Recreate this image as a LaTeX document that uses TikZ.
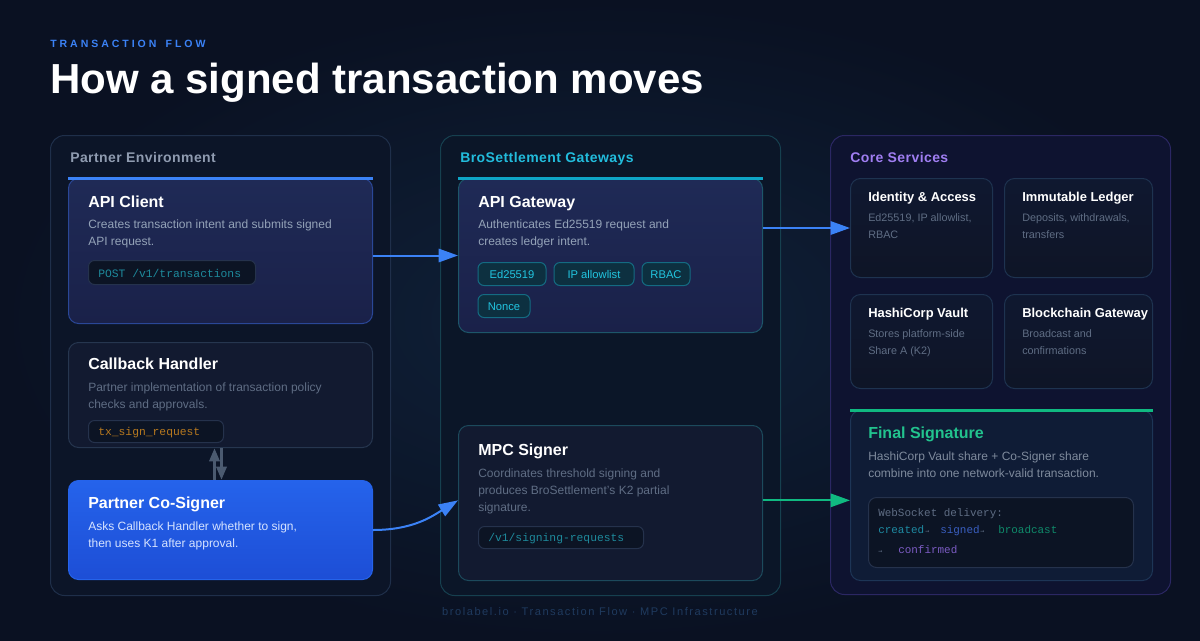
\documentclass[tikz,border=0pt]{standalone}
\usepackage{fontspec}
\setmainfont{Liberation Sans}
\setmonofont{Liberation Mono}
\newfontfamily\kickerfont[LetterSpace=28]{Liberation Sans}
\newfontfamily\footfont[LetterSpace=14]{Liberation Sans}
\newfontfamily\secfont[LetterSpace=3]{Liberation Sans}
\newfontfamily\arrfont{DejaVu Sans Mono}
\usetikzlibrary{arrows.meta,calc}
\definecolor{bg}{HTML}{0A1122}
\definecolor{glowc}{HTML}{0F2139}
\definecolor{kicker}{HTML}{3B82F6}
\definecolor{pcont}{HTML}{0C1528}
\definecolor{pline}{HTML}{1F2F4A}
\definecolor{gcont}{HTML}{0B1628}
\definecolor{gline}{HTML}{16404F}
\definecolor{ccont}{HTML}{0E1330}
\definecolor{cline}{HTML}{2B2763}
\definecolor{ptitle}{HTML}{8F9BB0}
\definecolor{gtitle}{HTML}{22BCDC}
\definecolor{ctitle}{HTML}{A07EF2}
\definecolor{hitop}{HTML}{1F2A56}
\definecolor{hibot}{HTML}{1A2149}
\definecolor{hiline}{HTML}{2A4797}
\definecolor{gwline}{HTML}{1D566A}
\definecolor{dkfill}{HTML}{121A30}
\definecolor{dkline}{HTML}{26364F}
\definecolor{mpcline}{HTML}{1C4A5C}
\definecolor{corefill}{HTML}{0F1830}
\definecolor{coreline}{HTML}{1E3350}
\definecolor{finfill}{HTML}{0F1C36}
\definecolor{finline}{HTML}{1D3556}
\definecolor{csTop}{HTML}{2563EB}
\definecolor{csBot}{HTML}{1D4ED6}
\definecolor{desc}{HTML}{94A3B8}
\definecolor{desc2}{HTML}{5F6D84}
\definecolor{cosdesc}{HTML}{D6E3FF}
\definecolor{codebg}{HTML}{0C1424}
\definecolor{codeline}{HTML}{25324C}
\definecolor{codetxt}{HTML}{1E8A9C}
\definecolor{amber}{HTML}{B7791F}
\definecolor{chipbg}{HTML}{0D3040}
\definecolor{chipline}{HTML}{146B82}
\definecolor{chiptxt}{HTML}{22C5E0}
\definecolor{barblue}{HTML}{3B82F6}
\definecolor{barteal}{HTML}{0EA5C6}
\definecolor{bargreen}{HTML}{10B981}
\definecolor{fintitle}{HTML}{22C38E}
\definecolor{wsgray}{HTML}{5F6D84}
\definecolor{wscreated}{HTML}{1E8AA2}
\definecolor{wssigned}{HTML}{3A5FC2}
\definecolor{wsbroad}{HTML}{0F8A6A}
\definecolor{wsconf}{HTML}{7C5CC4}
\definecolor{arrgray}{HTML}{4B5A70}
\definecolor{footc}{HTML}{1F3A5E}
\begin{document}
\begin{tikzpicture}[x=0.75pt,y=-0.75pt,
  sz/.style 2 args={minimum width=#1*0.75pt, minimum height=#2*0.75pt},
  box/.style={rectangle, rounded corners=7.5pt, anchor=north west, inner sep=0pt, line width=0.75pt},
  cont/.style={box, rounded corners=10.5pt},
  ttl/.style={anchor=base west, inner sep=0pt, text=white, font=\fontsize{12}{14}\selectfont\bfseries},
  sttl/.style={anchor=base west, inner sep=0pt, text=white, font=\fontsize{9.7}{12}\selectfont\bfseries},
  dsc/.style={anchor=base west, inner sep=0pt, text=desc, font=\fontsize{9}{11}\selectfont},
  sdsc/.style={anchor=base west, inner sep=0pt, text=desc2, font=\fontsize{8.1}{10}\selectfont},
  sec/.style={anchor=base west, inner sep=0pt, font=\fontsize{10.5}{12}\secfont\bfseries},
  code/.style={anchor=base west, inner sep=0pt, font=\fontsize{8.5}{10}\ttfamily},
  codebox/.style={box, rounded corners=4.5pt, fill=codebg, draw=codeline},
  chip/.style={rectangle, rounded corners=4.5pt, draw=chipline, fill=chipbg, text=chiptxt,
    font=\fontsize{8.4}{10}\selectfont, inner sep=0pt, line width=0.75pt, minimum height=23*0.75pt,
    text height=6.2pt, text depth=0pt},
  bar/.style={line width=2.25pt},
  arr/.style={line width=1.5pt, -{Triangle[length=14.5pt,width=10pt]}},
  garr/.style={line width=2.4pt, arrgray, -{Triangle[length=10pt,width=7.5pt]}}
]
\useasboundingbox (0,0) rectangle (1200,640);
\shade[inner color=glowc, outer color=bg] (0,0) rectangle (1200,640);

% header
\node[anchor=base west, inner sep=0pt, text=kicker, font=\fontsize{7.9}{10}\kickerfont\bfseries] (kick) at (50,47.5) {TRANSACTION\hspace{2.5pt} FLOW};
\node[anchor=base west, inner sep=0pt, text=white, font=\fontsize{31.5}{36}\selectfont\bfseries] (head) at (50,93) {How a signed transaction moves};

% containers
\node[cont, sz={340}{460}, fill=pcont, draw=pline] (partner) at (50,135) {};
\node[cont, sz={340}{460}, fill=gcont, draw=gline] (gateways) at (440,135) {};
\node[cont, sz={340}{459}, fill=ccont, draw=cline] (core) at (830,135) {};
\node[sec, text=ptitle] (partner-t) at (70,162) {Partner Environment};
\node[sec, text=gtitle] (gateways-t) at (460,162) {BroSettlement Gateways};
\node[sec, text=ctitle] (core-t) at (850,162) {Core Services};

% API Client
\node[box, sz={304}{145}, top color=hitop, bottom color=hibot, draw=hiline] (ac) at (68,178) {};
\draw[bar, barblue] (ac.north west) -- (ac.north east);
\node[ttl] (ac-t) at (88,207) {API Client};
\node[dsc] (ac-d1) at (88,228) {Creates transaction intent and submits signed};
\node[dsc] (ac-d2) at (88,245) {API request.};
\node[codebox, sz={167}{24}] (ac-cb) at (88,260) {};
\node[code, text=codetxt] (ac-c) at (98,277) {POST /v1/transactions};

% Callback Handler
\node[box, sz={304}{105}, fill=dkfill, draw=dkline] (cb) at (68,342) {};
\node[ttl] (cb-t) at (88,369) {Callback Handler};
\node[dsc, text=desc2] (cb-d1) at (88,391) {Partner implementation of transaction policy};
\node[dsc, text=desc2] (cb-d2) at (88,408) {checks and approvals.};
\node[codebox, sz={135}{22}] (cb-cb) at (88,420) {};
\node[code, text=amber] (cb-c) at (98,435) {tx\_sign\_request};

% Partner Co-Signer
\node[box, sz={304}{99}, top color=csTop, bottom color=csBot, draw=csTop] (cs) at (68,480) {};
\node[ttl] (cs-t) at (88,508) {Partner Co-Signer};
\node[dsc, text=cosdesc] (cs-d1) at (88,530) {Asks Callback Handler whether to sign,};
\node[dsc, text=cosdesc] (cs-d2) at (88,547) {then uses K1 after approval.};

% API Gateway
\node[box, sz={304}{154}, top color=hitop, bottom color=hibot, draw=gwline] (gw) at (458,178) {};
\draw[bar, barteal] (gw.north west) -- (gw.north east);
\node[ttl] (gw-t) at (478,207) {API Gateway};
\node[dsc] (gw-d1) at (478,228) {Authenticates Ed25519 request and};
\node[dsc] (gw-d2) at (478,245) {creates ledger intent.};
\node[chip, minimum width=68*0.75pt] (chip1) at (512,274) {Ed25519};
\node[chip, minimum width=80*0.75pt] (chip2) at (594,274) {IP allowlist};
\node[chip, minimum width=48*0.75pt] (chip3) at (666,274) {RBAC};
\node[chip, minimum width=52*0.75pt] (chip4) at (504,306) {Nonce};

% MPC Signer
\node[box, sz={304}{155}, fill=dkfill, draw=mpcline] (mpc) at (458,425) {};
\node[ttl] (mpc-t) at (478,455) {MPC Signer};
\node[dsc, text=desc2] (mpc-d1) at (478,477) {Coordinates threshold signing and};
\node[dsc, text=desc2] (mpc-d2) at (478,494) {produces BroSettlement's K2 partial};
\node[dsc, text=desc2] (mpc-d3) at (478,511) {signature.};
\node[codebox, sz={165}{22}] (mpc-cb) at (478,526) {};
\node[code, text=codetxt] (mpc-c) at (488,541) {/v1/signing-requests};

% Core services
\node[box, sz={142}{99}, top color=corefill, bottom color=dkfill!80!black, draw=coreline] (ia) at (850,178) {};
\node[sttl] (ia-t) at (868,201) {Identity \& Access};
\node[sdsc] (ia-d1) at (868,221) {Ed25519, IP allowlist,};
\node[sdsc] (ia-d2) at (868,238) {RBAC};
\node[box, sz={148}{99}, top color=corefill, bottom color=dkfill!80!black, draw=coreline] (il) at (1004,178) {};
\node[sttl] (il-t) at (1022,201) {Immutable Ledger};
\node[sdsc] (il-d1) at (1022,221) {Deposits, withdrawals,};
\node[sdsc] (il-d2) at (1022,238) {transfers};
\node[box, sz={142}{94}, top color=corefill, bottom color=dkfill!80!black, draw=coreline] (hv) at (850,294) {};
\node[sttl] (hv-t) at (868,317) {HashiCorp Vault};
\node[sdsc] (hv-d1) at (868,337) {Stores platform-side};
\node[sdsc] (hv-d2) at (868,354) {Share A (K2)};
\node[box, sz={148}{94}, top color=corefill, bottom color=dkfill!80!black, draw=coreline] (bg) at (1004,294) {};
\node[sttl] (bg-t) at (1022,317) {Blockchain Gateway};
\node[sdsc] (bg-d1) at (1022,337) {Broadcast and};
\node[sdsc] (bg-d2) at (1022,354) {confirmations};

% Final Signature
\node[box, sz={302}{170}, fill=finfill, draw=finline] (fin) at (850,410) {};
\draw[bar, bargreen] (fin.north west) -- (fin.north east);
\node[ttl, text=fintitle] (fin-t) at (868,438) {Final Signature};
\node[dsc, text=desc!85!black] (fin-d1) at (868,460) {HashiCorp Vault share + Co-Signer share};
\node[dsc, text=desc!85!black] (fin-d2) at (868,477) {combine into one network-valid transaction.};
\node[codebox, sz={265}{70}, rounded corners=6pt] (ws) at (868,497) {};
\node[code, font=\fontsize{8.2}{10}\ttfamily, text=wsgray] (ws-t) at (878,516) {WebSocket delivery:};
\node[code, font=\fontsize{8.2}{10}\ttfamily, text=wscreated] (ws-a) at (878,533) {created};
\node[code, font=\fontsize{5}{6}\arrfont, text=wsgray] (ws-x1) at (925,533) {→};
\node[code, font=\fontsize{8.2}{10}\ttfamily, text=wssigned] (ws-b) at (940,533) {signed};
\node[code, font=\fontsize{5}{6}\arrfont, text=wsgray] (ws-x2) at (980,533) {→};
\node[code, font=\fontsize{8.2}{10}\ttfamily, text=wsbroad] (ws-c) at (998,533) {broadcast};
\node[code, font=\fontsize{5}{6}\arrfont, text=wsgray] (ws-x3) at (878,553) {→};
\node[code, font=\fontsize{8.2}{10}\ttfamily, text=wsconf] (ws-d) at (898,553) {confirmed};

% connectors
\draw[arr, barblue] (ac.east |- gw.west) -- (gw.west);
\draw[arr, barblue] (gw.east |- ia.west) -- (ia.west);
\draw[arr, barblue] (cs.east) .. controls +(40,0) and +(-26,16) .. ([yshift=2pt]mpc.west);
\draw[arr, bargreen] ([yshift=2pt]mpc.east) -- ([yshift=2pt]fin.west |- mpc.east);
\draw[garr] ([xshift=-4.5pt]cs.north) -- ([xshift=-4.5pt]cb.south);
\draw[garr] ([xshift=0.75pt]cb.south) -- ([xshift=0.75pt]cs.north);

% footer
\node[anchor=base, inner sep=0pt, text=footc, font=\fontsize{8.3}{10}\footfont] (foot) at (600,615) {brolabel.io · Transaction Flow · MPC Infrastructure};
\end{tikzpicture}
\end{document}
